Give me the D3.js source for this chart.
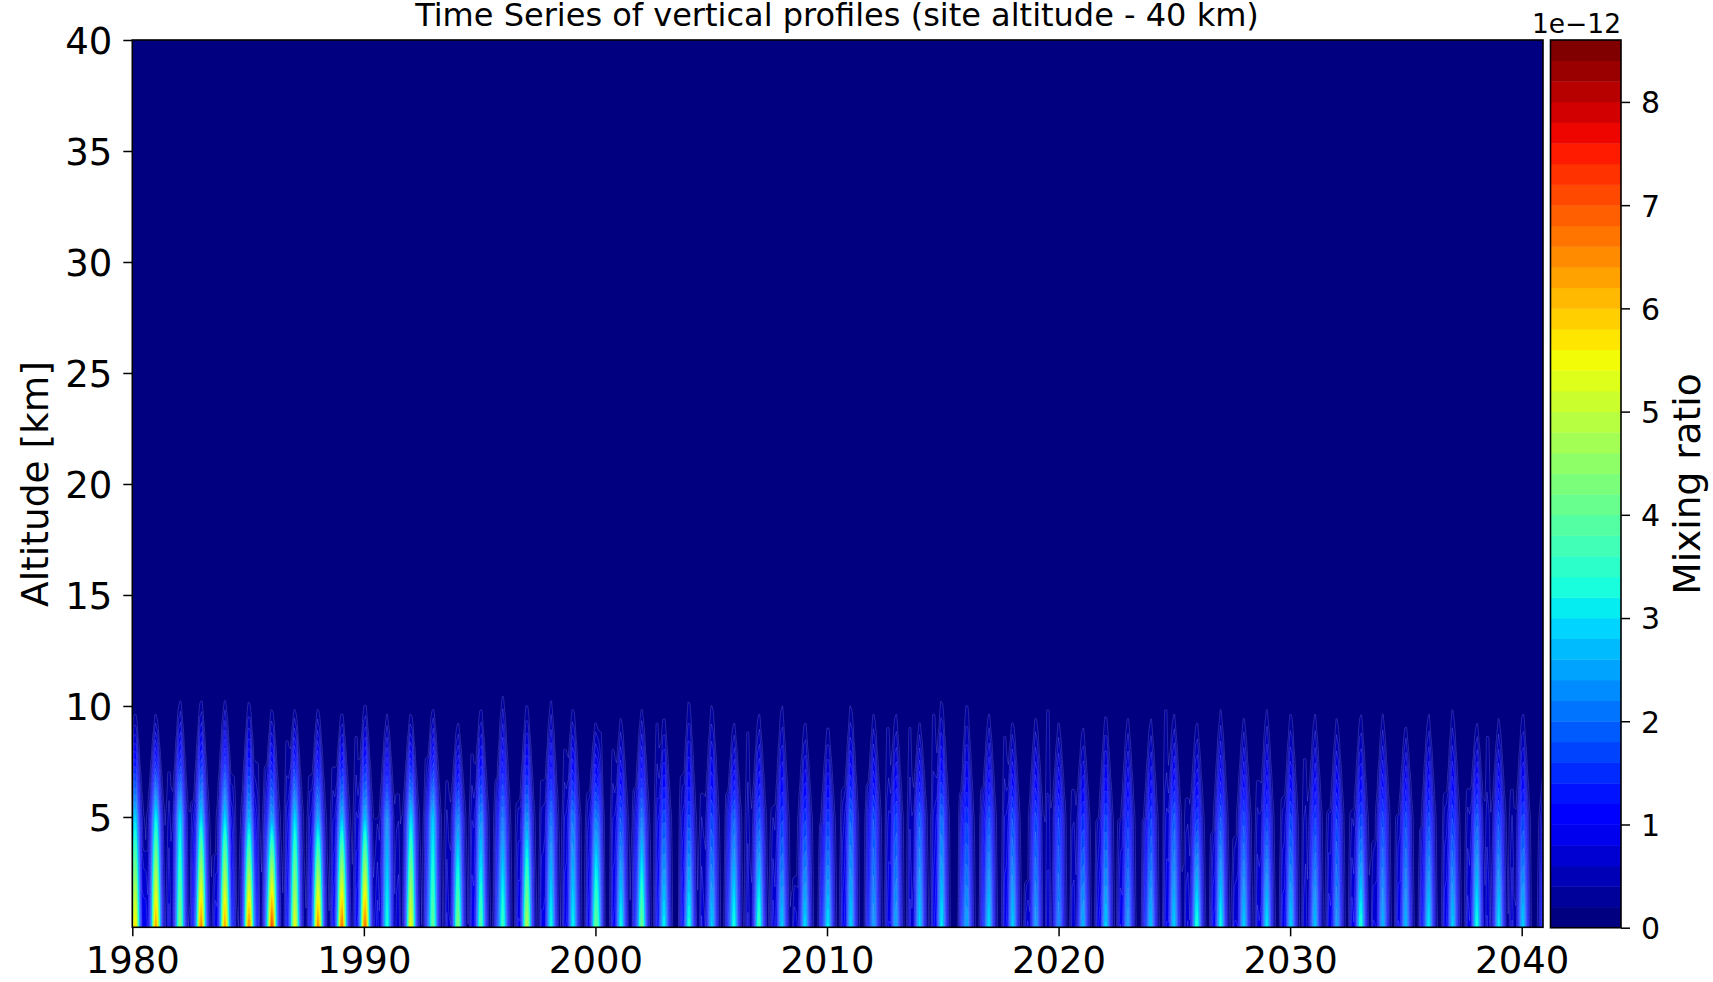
<!DOCTYPE html>
<html><head><meta charset="utf-8">
<script src="https://cdn.jsdelivr.net/npm/d3@7/dist/d3.min.js"></script>
<style>
html,body{margin:0;padding:0;background:#fff}
svg{display:block}
text{font-family:"DejaVu Sans";fill:#000}
</style></head><body><svg id="c" width="1713" height="982"></svg>
<script>
// Values below were read by eye from the picture, one entry per seasonal plume.
// The original monthly 2-D field is not recoverable: the field between these
// readings is a smooth reconstruction (see fieldAt), not source data.
const pulseYears = [1980.12,1981.02,1982.06,1982.97,1984.00,1985.04,1986.03,1987.02,1988.02,1989.05,1990.05,1991.00,1992.03,1992.98,1994.06,1995.05,1996.00,1997.04,1998.08,1999.03,2000.02,2001.10,2002.00,2002.96,2004.04,2005.03,2005.98,2007.06,2008.05,2009.05,2010.04,2011.03,2012.02,2012.97,2014.00,2014.95,2016.04,2016.99,2018.02,2019.02,2020.01,2021.05,2022.04,2022.99,2023.98,2024.98,2025.97,2027.00,2028.00,2028.99,2030.03,2031.07,2032.02,2033.05,2034.00,2034.99,2035.98,2037.02,2038.06,2039.01,2040.05,2041.00];
const surfaceValues = [6.0,6.5,4.5,6.8,6.5,6.8,7.3,5.6,6.8,7.0,7.0,3.5,5.7,4.2,4.5,4.0,3.8,5.0,3.4,3.3,4.2,3.4,4.3,3.3,3.5,3.0,3.5,3.8,3.0,3.1,3.2,3.0,2.6,2.7,3.0,3.2,2.7,3.1,3.0,2.6,2.4,2.8,3.0,2.6,2.9,3.0,3.6,3.4,3.0,3.2,3.0,2.9,2.6,3.6,2.8,2.8,3.2,3.0,3.5,3.2,3.0,1.8];
const valuesAt5km = [3.0,3.2,3.0,3.0,3.0,2.7,2.6,3.0,2.6,2.8,2.8,2.4,3.0,2.9,2.3,2.4,2.2,2.4,2.1,2.2,2.2,1.8,2.2,1.8,1.7,1.7,2.0,1.8,1.6,1.6,1.6,2.0,1.8,1.7,1.9,2.1,1.6,1.8,1.8,1.7,1.6,1.5,1.7,1.5,1.6,1.9,1.6,1.8,1.7,1.6,1.7,1.6,1.6,1.7,1.7,1.7,1.7,1.6,1.9,1.7,1.7,0.9];
const topAltitudes = [9.74,9.67,10.3,10.34,10.3,10.24,9.94,9.94,9.97,9.79,10.2,9.62,9.71,9.97,9.29,9.97,10.53,10.12,10.27,10.0,9.4,9.52,9.92,9.59,10.3,10.12,9.29,9.71,10.05,9.34,9.14,10.05,9.71,9.7,9.29,10.3,10.2,9.71,9.4,9.6,9.29,9.07,9.62,9.56,9.44,9.67,9.34,9.82,9.52,9.9,9.75,9.67,9.49,9.67,9.62,9.2,9.64,9.87,9.27,9.42,9.74,7.6];
// Faint secondary plumes seen between the main ones
const ghostYears = [1980.55,1981.58,1982.62,1983.57,1984.35,1985.38,1985.77,1986.68,1987.67,1988.67,1989.66,1990.57,1991.47,1992.72,1993.59,1994.67,1995.75,1996.65,1997.69,1998.68,1999.68,2000.20,2000.76,2001.71,2002.66,2003.73,2004.60,2005.72,2006.58,2007.66,2008.61,2009.78,2010.69,2011.77,2012.63,2013.58,2014.61,2015.82,2016.73,2017.68,2018.63,2019.54,2020.62,2021.70,2022.65,2023.73,2024.63,2025.54,2026.66,2027.61,2028.60,2029.68,2030.63,2031.67,2032.66,2033.61,2034.65,2035.69,2036.68,2037.67,2038.53,2039.57];
const ghostTops = [3.5,7.2,5.8,3.4,6.9,7.5,7.4,8.5,6.9,7.4,8.8,4.9,6.1,7.8,6.7,8.0,6.7,5.8,6.7,8.2,6.2,8.9,8.2,6.4,9.4,6.9,6.1,6.2,9.0,5.5,2.3,4.7,6.4,6.5,9.1,9.2,9.8,6.2,6.4,8.8,2.2,9.9,6.4,4.9,4.9,5.0,9.9,5.9,4.4,4.1,6.7,5.9,7.7,5.4,5.4,3.9,5.1,4.5,6.1,6.4,8.8,6.4];
const xTicks = [1980,1990,2000,2010,2020,2030,2040];
const yTicks = [5,10,15,20,25,30,35,40];
const cbTicks = [0,1,2,3,4,5,6,7,8];
const levelStep = 0.2, levelCount = 43;

const W = 1713, H = 982;
const svg = d3.select('#c');
const x = d3.scaleLinear().domain([1980, 2040.92]).range([132.3, 1543]);
const y = d3.scaleLinear().domain([0.03, 40]).range([927.3, 40]);
const levels = d3.range(levelCount + 1).map(i => i * levelStep);

// matplotlib jet as piecewise-linear channels
const chR = d3.scaleLinear().domain([0,.35,.66,.89,1]).range([0,0,1,1,.5]);
const chG = d3.scaleLinear().domain([0,.125,.375,.64,.91,1]).range([0,0,1,1,0,0]);
const chB = d3.scaleLinear().domain([0,.11,.34,.65,1]).range([.5,1,1,0,0]);
const jet = t => d3.rgb(chR(t)*255, chG(t)*255, chB(t)*255).formatHex();
const bandColor = i => jet(i / (levelCount - 1));

function profile(i, z) {
  const s = surfaceValues[i], m = valuesAt5km[i], t = topAltitudes[i];
  if (z >= t) return 0;
  if (z <= 5) return m + (s - m) * (1 - z / 5);
  return 0.25 + (m - 0.25) * Math.pow((t - z) / (t - 5), 1.2);
}
function widthScale(i, z) {
  const t = topAltitudes[i];
  if (z <= 5 || z >= t) return 1;
  return 0.35 + 0.65 * Math.pow((t - z) / (t - 5), 0.8);
}
const gauss = (d, s) => Math.exp(-d * d / (2 * s * s));
function fieldAt(t, z) {
  let v = 0;
  const zz = Math.max(z, 0);
  pulseYears.forEach((p, i) => {
    const d = t - p;
    if (Math.abs(d) > 1) return;
    const a = profile(i, zz);
    if (a <= 0) return;
    const k = widthScale(i, zz);
    v += a * (0.72 * gauss(d, 0.125 * k) + 0.28 * gauss(d, 0.205 * k));
  });
  ghostYears.forEach((p, i) => {
    const d = t - p;
    if (Math.abs(d) > 0.4 || zz >= ghostTops[i]) return;
    v += (0.26 + 0.5 * (1 - zz / ghostTops[i])) * gauss(d, 0.07);
  });
  return v;
}

// Sampled on a monthly grid for d3.contours
const t0 = 1979.75, dt = 1 / 12, z0 = -0.4, dz = 0.2;
const nx = Math.ceil((2041.25 - t0) / dt), ny = Math.ceil((11.2 - z0) / dz);
const grid = new Float64Array(nx * ny);
for (let j = 0; j < ny; j++) for (let i = 0; i < nx; i++)
  grid[j * nx + i] = fieldAt(t0 + i * dt, z0 + j * dz);

const proj = d3.geoTransform({ point(px, py) {
  this.stream.point(x(t0 + (px - 0.5) * dt), y(z0 + (py - 0.5) * dz));
}});
const path = d3.geoPath(proj);

svg.append('rect').attr('width', W).attr('height', H).attr('fill', '#fff');
svg.append('clipPath').attr('id', 'plot').append('rect')
  .attr('x', x.range()[0]).attr('y', y.range()[1])
  .attr('width', x.range()[1] - x.range()[0]).attr('height', y.range()[0] - y.range()[1]);

const plot = svg.append('g').attr('clip-path', 'url(#plot)');
plot.append('rect').attr('x', x.range()[0]).attr('y', y.range()[1])
  .attr('width', x.range()[1] - x.range()[0]).attr('height', y.range()[0] - y.range()[1])
  .attr('fill', bandColor(0));

const contourGen = d3.contours().size([nx, ny]).smooth(true);
d3.range(1, levelCount).forEach(i => {
  const c = contourGen.contour(grid, levels[i]);
  if (!c.coordinates.length) return;
  const p = plot.append('path').attr('d', path(c)).attr('fill', bandColor(i));
  if (levels[i] < 2.5) p.attr('stroke', '#a0a0ff').attr('stroke-opacity', 0.4).attr('stroke-width', 0.6);
});

// Axes
const xAxis = d3.axisBottom(x).tickValues(xTicks).tickFormat(d3.format('d')).tickSize(9).tickPadding(10.4);
const yAxis = d3.axisLeft(y).tickValues(yTicks).tickSize(9).tickPadding(11);
function styleAxis(g, size) {
  g.select('.domain').remove();
  g.selectAll('.tick line').attr('stroke', '#000').attr('stroke-width', 1.5);
  g.selectAll('.tick text').attr('font-size', size).attr('font-family', '"DejaVu Sans"').attr('fill', '#000');
}
const gx = svg.append('g').attr('transform', `translate(0,${y.range()[0]})`).call(xAxis);
styleAxis(gx, 37);
const gy = svg.append('g').attr('transform', `translate(${x.range()[0]},0)`).call(yAxis);
styleAxis(gy, 37);
gy.selectAll('.tick text').attr('dy', '.365em');

svg.append('rect').attr('x', x.range()[0]).attr('y', y.range()[1])
  .attr('width', x.range()[1] - x.range()[0]).attr('height', y.range()[0] - y.range()[1])
  .attr('fill', 'none').attr('stroke', '#000').attr('stroke-width', 1.6);

// Colour bar
const cbMax = levelCount * levelStep;
const cbY = d3.scaleLinear().domain([0, cbMax]).range([927.7, 40]);
const cbX0 = 1550.5, cbX1 = 1621;
svg.append('g').selectAll('rect').data(d3.range(levelCount)).join('rect')
  .attr('x', cbX0).attr('width', cbX1 - cbX0)
  .attr('y', i => cbY(levels[i + 1]))
  .attr('height', i => cbY(levels[i]) - cbY(levels[i + 1]) + 0.4)
  .attr('fill', bandColor);
svg.append('rect').attr('x', cbX0).attr('y', 40).attr('width', cbX1 - cbX0).attr('height', 887.7)
  .attr('fill', 'none').attr('stroke', '#000').attr('stroke-width', 1.6);
const gc = svg.append('g').attr('transform', `translate(${cbX1},0)`)
  .call(d3.axisRight(cbY).tickValues(cbTicks).tickFormat(d3.format('d')).tickSize(9).tickPadding(11));
styleAxis(gc, 30);
gc.selectAll('.tick text').attr('dy', '.365em');

// Text
svg.append('text').attr('x', 837).attr('y', 26).attr('text-anchor', 'middle').attr('font-size', 32)
  .text('Time Series of vertical profiles (site altitude - 40 km)');
svg.append('text').attr('x', 1621).attr('y', 33).attr('text-anchor', 'end').attr('font-size', 26.5).text('1e\u221212');
svg.append('text').attr('transform', 'translate(48,484) rotate(-90)').attr('text-anchor', 'middle').attr('font-size', 37.5).text('Altitude [km]');
svg.append('text').attr('transform', 'translate(1700,484) rotate(-90)').attr('text-anchor', 'middle').attr('font-size', 37.5).text('Mixing ratio');
</script></body></html>
